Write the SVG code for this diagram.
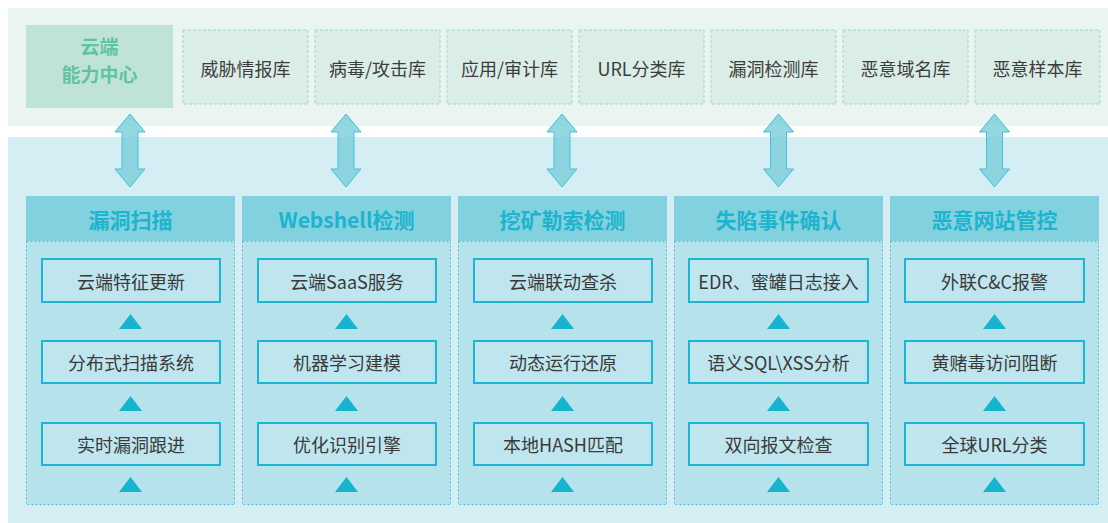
<svg xmlns="http://www.w3.org/2000/svg" width="1108" height="523" viewBox="0 0 1108 523">
<defs>
<style>
text{font-family:"Noto Sans CJK SC","Noto Sans",sans-serif;text-anchor:middle;dominant-baseline:central}
.lib rect{fill:#dbede7;stroke:#9fd8c8;stroke-width:1;stroke-dasharray:3 2}
.lib text{font-size:18px;fill:#3d3d3d}
.hdr{fill:#82d1de}
.body{fill:#b6e2eb;stroke:#4cc3d8;stroke-width:1;stroke-dasharray:2 2}
.htxt{font-size:21px;font-weight:bold;fill:#1cb4cf}
.item rect{fill:#bfe6ee;stroke:#1cb5d3;stroke-width:2}
.item text{font-size:18px;fill:#3a3a3a}
.tri{fill:#17b3cf}
.darrow{fill:#7fd0dc;fill-opacity:0.85;stroke:#3fc1d7;stroke-width:1}
</style>
</defs>
<rect x="8" y="8" width="1100" height="118" fill="#eaf4f1"/>
<rect x="8" y="137" width="1100" height="386" fill="#d5eef3"/>

<g id="cloud-center">
<rect x="26" y="25" width="147" height="83" fill="#bfe3d7"/>
<text x="99.5" y="45" font-size="19" font-weight="bold" fill="#62c39f">云端</text>
<text x="99.5" y="73" font-size="19" font-weight="bold" fill="#62c39f">能力中心</text>
</g>

<g id="lib-threat" class="lib"><rect x="183" y="30" width="125" height="74"/><text x="245.5" y="68">威胁情报库</text></g>
<g id="lib-virus" class="lib"><rect x="315" y="30" width="125" height="74"/><text x="377.5" y="68">病毒/攻击库</text></g>
<g id="lib-app" class="lib"><rect x="447" y="30" width="125" height="74"/><text x="509.5" y="68">应用/审计库</text></g>
<g id="lib-url" class="lib"><rect x="579" y="30" width="125" height="74"/><text x="641.5" y="68">URL分类库</text></g>
<g id="lib-vuln" class="lib"><rect x="711" y="30" width="125" height="74"/><text x="773.5" y="68">漏洞检测库</text></g>
<g id="lib-domain" class="lib"><rect x="843" y="30" width="125" height="74"/><text x="905.5" y="68">恶意域名库</text></g>
<g id="lib-sample" class="lib"><rect x="975" y="30" width="125" height="74"/><text x="1037.5" y="68">恶意样本库</text></g>

<g id="connectors">
<path class="darrow" d="M130,114 L145,132 L138,132 L138,169 L145,169 L130,187 L115,169 L122,169 L122,132 L115,132 Z"/>
<path class="darrow" d="M346,114 L361,132 L354,132 L354,169 L361,169 L346,187 L331,169 L338,169 L338,132 L331,132 Z"/>
<path class="darrow" d="M562,114 L577,132 L570,132 L570,169 L577,169 L562,187 L547,169 L554,169 L554,132 L547,132 Z"/>
<path class="darrow" d="M778.5,114 L793.5,132 L786.5,132 L786.5,169 L793.5,169 L778.5,187 L763.5,169 L770.5,169 L770.5,132 L763.5,132 Z"/>
<path class="darrow" d="M994.5,114 L1009.5,132 L1002.5,132 L1002.5,169 L1009.5,169 L994.5,187 L979.5,169 L986.5,169 L986.5,132 L979.5,132 Z"/>
</g>

<g id="col-vuln-scan">
<rect class="body" x="26.5" y="241.5" width="208" height="263"/>
<rect class="hdr" x="26" y="196" width="209" height="45"/>
<text class="htxt" x="130.5" y="218.5">漏洞扫描</text>
<g class="item"><rect x="42" y="259" width="178" height="43"/><text x="131" y="280.5">云端特征更新</text></g>
<g class="item"><rect x="42" y="341" width="178" height="42"/><text x="131" y="362">分布式扫描系统</text></g>
<g class="item"><rect x="42" y="423" width="178" height="42"/><text x="131" y="444">实时漏洞跟进</text></g>
<path class="tri" d="M130.5,314 L142,329 L119,329 Z M130.5,396 L142,411 L119,411 Z M130.5,477 L142,492 L119,492 Z"/>
</g>

<g id="col-webshell">
<rect class="body" x="242.5" y="241.5" width="208" height="263"/>
<rect class="hdr" x="242" y="196" width="209" height="45"/>
<text class="htxt" x="346.5" y="218.5">Webshell检测</text>
<g class="item"><rect x="258" y="259" width="178" height="43"/><text x="347" y="280.5">云端SaaS服务</text></g>
<g class="item"><rect x="258" y="341" width="178" height="42"/><text x="347" y="362">机器学习建模</text></g>
<g class="item"><rect x="258" y="423" width="178" height="42"/><text x="347" y="444">优化识别引擎</text></g>
<path class="tri" d="M346.5,314 L358,329 L335,329 Z M346.5,396 L358,411 L335,411 Z M346.5,477 L358,492 L335,492 Z"/>
</g>

<g id="col-mining">
<rect class="body" x="458.5" y="241.5" width="208" height="263"/>
<rect class="hdr" x="458" y="196" width="209" height="45"/>
<text class="htxt" x="562.5" y="218.5">挖矿勒索检测</text>
<g class="item"><rect x="474" y="259" width="178" height="43"/><text x="563" y="280.5">云端联动查杀</text></g>
<g class="item"><rect x="474" y="341" width="178" height="42"/><text x="563" y="362">动态运行还原</text></g>
<g class="item"><rect x="474" y="423" width="178" height="42"/><text x="563" y="444">本地HASH匹配</text></g>
<path class="tri" d="M562.5,314 L574,329 L551,329 Z M562.5,396 L574,411 L551,411 Z M562.5,477 L574,492 L551,492 Z"/>
</g>

<g id="col-compromise">
<rect class="body" x="674.5" y="241.5" width="208" height="263"/>
<rect class="hdr" x="674" y="196" width="209" height="45"/>
<text class="htxt" x="778.5" y="218.5">失陷事件确认</text>
<g class="item"><rect x="689" y="259" width="179" height="43"/><text x="778.5" y="280.5">EDR、蜜罐日志接入</text></g>
<g class="item"><rect x="689" y="341" width="179" height="42"/><text x="778.5" y="362">语义SQL\XSS分析</text></g>
<g class="item"><rect x="689" y="423" width="179" height="42"/><text x="778.5" y="444">双向报文检查</text></g>
<path class="tri" d="M778.5,314 L790,329 L767,329 Z M778.5,396 L790,411 L767,411 Z M778.5,477 L790,492 L767,492 Z"/>
</g>

<g id="col-malicious-site">
<rect class="body" x="890.5" y="241.5" width="208" height="263"/>
<rect class="hdr" x="890" y="196" width="209" height="45"/>
<text class="htxt" x="994.5" y="218.5">恶意网站管控</text>
<g class="item"><rect x="905" y="259" width="179" height="43"/><text x="994.5" y="280.5">外联C&amp;C报警</text></g>
<g class="item"><rect x="905" y="341" width="179" height="42"/><text x="994.5" y="362">黄赌毒访问阻断</text></g>
<g class="item"><rect x="905" y="423" width="179" height="42"/><text x="994.5" y="444">全球URL分类</text></g>
<path class="tri" d="M994.5,314 L1006,329 L983,329 Z M994.5,396 L1006,411 L983,411 Z M994.5,477 L1006,492 L983,492 Z"/>
</g>
</svg>
